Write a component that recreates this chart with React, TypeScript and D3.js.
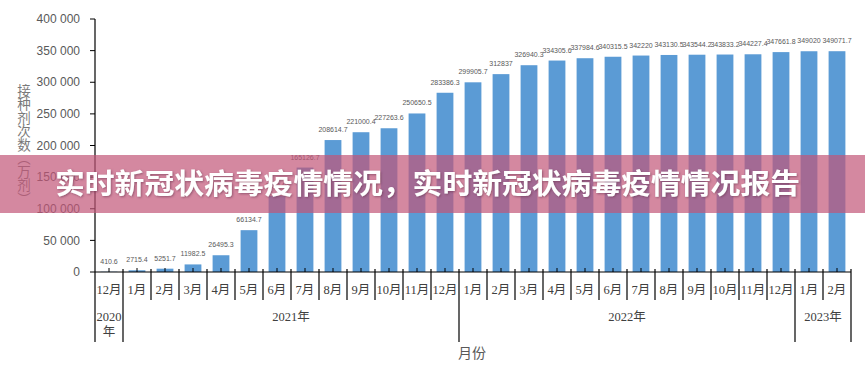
import React from "react";
import * as d3 from "d3";

const months = ["12月","1月","2月","3月","4月","5月","6月","7月","8月","9月","10月","11月","12月","1月","2月","3月","4月","5月","6月","7月","8月","9月","10月","11月","12月","1月","2月"];
const values = [410.6, 2715.4, 5251.7, 11982.5, 26495.3, 66134.7, 120140, 165126.7, 208614.7, 221000.4, 227263.6, 250650.5, 283386.3, 299905.7, 312837, 326940.3, 334305.6, 337984.6, 340315.5, 342220, 343130.5, 343544.2, 343833.2, 344227.4, 347661.8, 349020, 349071.7];
const years = [
  { label: "2020年", start: 0, count: 1 },
  { label: "2021年", start: 1, count: 12 },
  { label: "2022年", start: 13, count: 12 },
  { label: "2023年", start: 25, count: 2 },
];
const yTicks = [0, 50000, 100000, 150000, 200000, 250000, 300000, 350000, 400000];
const yTitle = "接种剂次数（万剂）";
const xTitle = "月份";
const bannerText = "实时新冠状病毒疫情情况，实时新冠状病毒疫情情况报告";

const W = 865, H = 368;
const L = 95, R = 851, T = 19, B = 272;

export default function App() {
  const idx = months.map((_, i) => i);
  const x = d3.scaleBand<number>().domain(idx).range([L, R]).paddingInner(0.4).paddingOuter(0.2);
  const step = x.step();
  const edge = (i: number) => L + i * step;
  const y = d3.scaleLinear().domain([0, 400000]).range([B, T]);
  const fmt = d3.formatLocale({ decimal: ".", thousands: " ", grouping: [3], currency: ["", ""] }).format(",");
  const serif = "'Liberation Serif', 'Noto Sans CJK SC', serif";
  const sans = "'Liberation Sans', Arial, sans-serif";
  const cjk = "'Noto Sans CJK SC', sans-serif";
  const yearBounds = new Set<number>();
  years.forEach(yr => { yearBounds.add(yr.start); yearBounds.add(yr.start + yr.count); });

  return (
    <div>
      <style>{`body{margin:0;background:#fff}`}</style>
      <svg width={W} height={H} viewBox={`0 0 ${W} ${H}`} style={{ display: "block" }}>
        <defs>
          <filter id="sh" x="-5%" y="-20%" width="110%" height="140%">
            <feDropShadow dx="1" dy="1" stdDeviation="0.8" floodColor="#6a3050" floodOpacity="0.6" />
          </filter>
        </defs>
        <rect x={0} y={0} width={W} height={H} fill="#fff" />
        {/* y ticks */}
        {yTicks.map(t => (
          <g key={t}>
            <line x1={L - 5} x2={L} y1={y(t)} y2={y(t)} stroke="#000" strokeWidth={1} />
            <text x={L - 15} y={y(t)} dy="0.35em" textAnchor="end" fontFamily={sans} fontSize={12} fill="#595959">{fmt(t)}</text>
          </g>
        ))}
        {/* y title */}
        <text x={24} y={84} fontFamily={cjk} fontSize={13.5} fill="#7a7a7a" style={{ writingMode: "vertical-rl" } as any}>{yTitle}</text>
        {/* bars */}
        {values.map((v, i) => (
          <rect key={i} x={x(i)} y={y(v)} width={x.bandwidth()} height={B - y(v)} fill="#5b9bd5" />
        ))}
        {/* value labels */}
        {values.map((v, i) => (
          <text key={"l" + i} x={(x(i) as number) + x.bandwidth() / 2} y={y(v) - 8} textAnchor="middle" fontFamily={sans} fontSize={7} fill="#595959">{String(v)}</text>
        ))}
        {/* axes */}
        <line x1={L} x2={L} y1={T} y2={342} stroke="#000" strokeWidth={1.2} />
        <line x1={L} x2={R} y1={B} y2={B} stroke="#000" strokeWidth={1.2} />
        {idx.map(i => (
          <line key={"c" + i} x1={edge(i) + step / 2} x2={edge(i) + step / 2} y1={B - 4} y2={B} stroke="#000" strokeWidth={1} />
        ))}
        {d3.range(1, months.length + 1).map(i => (
          <line key={"s" + i} x1={edge(i)} x2={edge(i)} y1={B - 3} y2={yearBounds.has(i) ? 342 : 300} stroke="#000" strokeWidth={1.2} />
        ))}
        {months.map((m, i) => (
          <text key={"m" + i} x={edge(i) + step / 2} y={290} dy="0.35em" textAnchor="middle" fontFamily={serif} fontSize={12.5} fill="#404040">{m}</text>
        ))}
        {years.map(yr => {
          const cx = edge(yr.start) + (yr.count * step) / 2;
          if (yr.count === 1) {
            return (
              <g key={yr.label}>
                <text x={cx} y={317} dy="0.35em" textAnchor="middle" fontFamily={serif} fontSize={12.5} fill="#404040">{yr.label.slice(0, 4)}</text>
                <text x={cx} y={332} dy="0.35em" textAnchor="middle" fontFamily={serif} fontSize={12.5} fill="#404040">{yr.label.slice(4)}</text>
              </g>
            );
          }
          return <text key={yr.label} x={cx} y={317} dy="0.35em" textAnchor="middle" fontFamily={serif} fontSize={12.5} fill="#404040">{yr.label}</text>;
        })}
        <text x={472} y={353} dy="0.35em" textAnchor="middle" fontFamily={cjk} fontSize={14} fill="#595959">{xTitle}</text>
        {/* banner */}
        <rect x={0} y={155} width={W} height={58} fill="rgb(194,85,119)" fillOpacity={0.7} />
        <text x={55} y={184} dy="0.36em" textLength={745} lengthAdjust="spacingAndGlyphs" fontFamily={cjk} fontWeight={700} fontSize={28} fill="#fff" filter="url(#sh)">{bannerText}</text>
      </svg>
    </div>
  );
}
